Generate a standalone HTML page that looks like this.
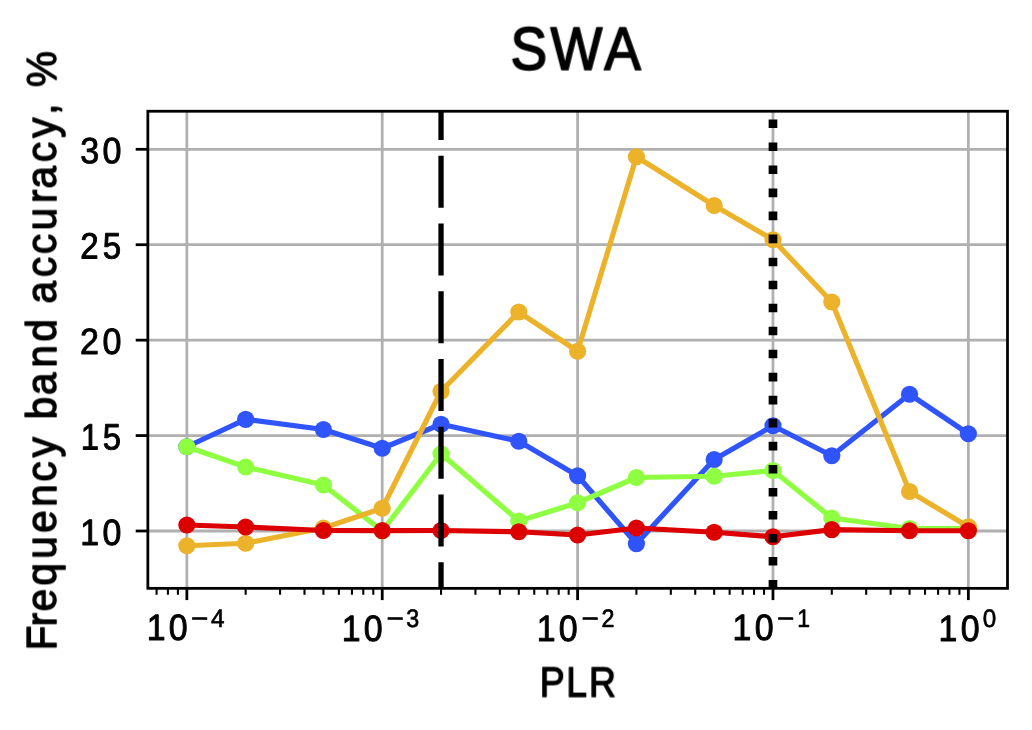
<!DOCTYPE html>
<html><head><meta charset="utf-8"><title>SWA</title>
<style>html,body{margin:0;padding:0;background:#fff;}body{width:1032px;height:730px;overflow:hidden;}svg{display:block;}text{font-family:"Liberation Sans",sans-serif;fill:#000;}</style>
</head><body>
<svg width="1032" height="730" viewBox="0 0 1032 730">
<rect x="0" y="0" width="1032" height="730" fill="#ffffff"/>
<g stroke="#b0b0b0" stroke-width="2.78" fill="none">
<line x1="186.85" y1="111.25" x2="186.85" y2="588.35"/>
<line x1="382.23" y1="111.25" x2="382.23" y2="588.35"/>
<line x1="577.60" y1="111.25" x2="577.60" y2="588.35"/>
<line x1="772.98" y1="111.25" x2="772.98" y2="588.35"/>
<line x1="968.35" y1="111.25" x2="968.35" y2="588.35"/>
<line x1="147.85" y1="531.00" x2="1007.50" y2="531.00"/>
<line x1="147.85" y1="435.57" x2="1007.50" y2="435.57"/>
<line x1="147.85" y1="340.15" x2="1007.50" y2="340.15"/>
<line x1="147.85" y1="244.72" x2="1007.50" y2="244.72"/>
<line x1="147.85" y1="149.30" x2="1007.50" y2="149.30"/>
</g>
<g fill="#3054fb" stroke="none">
<polyline points="186.85,446.75 245.66,419.40 323.41,429.50 382.23,448.25 441.04,424.25 518.79,441.25 577.60,475.75 636.41,543.75 714.16,459.50 772.98,425.75 831.79,455.75 909.54,394.25 968.35,433.75" fill="none" stroke="#3054fb" stroke-width="5.20" stroke-linejoin="round" stroke-linecap="butt"/>
<circle cx="186.85" cy="446.75" r="8.60"/>
<circle cx="245.66" cy="419.40" r="8.60"/>
<circle cx="323.41" cy="429.50" r="8.60"/>
<circle cx="382.23" cy="448.25" r="8.60"/>
<circle cx="441.04" cy="424.25" r="8.60"/>
<circle cx="518.79" cy="441.25" r="8.60"/>
<circle cx="577.60" cy="475.75" r="8.60"/>
<circle cx="636.41" cy="543.75" r="8.60"/>
<circle cx="714.16" cy="459.50" r="8.60"/>
<circle cx="772.98" cy="425.75" r="8.60"/>
<circle cx="831.79" cy="455.75" r="8.60"/>
<circle cx="909.54" cy="394.25" r="8.60"/>
<circle cx="968.35" cy="433.75" r="8.60"/>
</g>
<g fill="#8eff41" stroke="none">
<polyline points="186.85,446.75 245.66,467.00 323.41,485.00 382.23,531.00 441.04,453.75 518.79,521.00 577.60,502.75 636.41,477.50 714.16,476.25 772.98,470.50 831.79,518.00 909.54,528.50 968.35,528.50" fill="none" stroke="#8eff41" stroke-width="5.20" stroke-linejoin="round" stroke-linecap="butt"/>
<circle cx="186.85" cy="446.75" r="8.60"/>
<circle cx="245.66" cy="467.00" r="8.60"/>
<circle cx="323.41" cy="485.00" r="8.60"/>
<circle cx="382.23" cy="531.00" r="8.60"/>
<circle cx="441.04" cy="453.75" r="8.60"/>
<circle cx="518.79" cy="521.00" r="8.60"/>
<circle cx="577.60" cy="502.75" r="8.60"/>
<circle cx="636.41" cy="477.50" r="8.60"/>
<circle cx="714.16" cy="476.25" r="8.60"/>
<circle cx="772.98" cy="470.50" r="8.60"/>
<circle cx="831.79" cy="518.00" r="8.60"/>
<circle cx="909.54" cy="528.50" r="8.60"/>
<circle cx="968.35" cy="528.50" r="8.60"/>
</g>
<g fill="#ecb22a" stroke="none">
<polyline points="186.85,545.75 245.66,543.25 323.41,528.00 382.23,508.25 441.04,391.25 518.79,312.00 577.60,351.25 636.41,156.75 714.16,205.50 772.98,239.75 831.79,302.00 909.54,491.50 968.35,526.75" fill="none" stroke="#ecb22a" stroke-width="5.20" stroke-linejoin="round" stroke-linecap="butt"/>
<circle cx="186.85" cy="545.75" r="8.60"/>
<circle cx="245.66" cy="543.25" r="8.60"/>
<circle cx="323.41" cy="528.00" r="8.60"/>
<circle cx="382.23" cy="508.25" r="8.60"/>
<circle cx="441.04" cy="391.25" r="8.60"/>
<circle cx="518.79" cy="312.00" r="8.60"/>
<circle cx="577.60" cy="351.25" r="8.60"/>
<circle cx="636.41" cy="156.75" r="8.60"/>
<circle cx="714.16" cy="205.50" r="8.60"/>
<circle cx="772.98" cy="239.75" r="8.60"/>
<circle cx="831.79" cy="302.00" r="8.60"/>
<circle cx="909.54" cy="491.50" r="8.60"/>
<circle cx="968.35" cy="526.75" r="8.60"/>
</g>
<g fill="#dc0000" stroke="none">
<polyline points="186.85,525.00 245.66,527.00 323.41,530.50 382.23,530.60 441.04,530.50 518.79,531.75 577.60,535.00 636.41,528.00 714.16,532.25 772.98,536.75 831.79,529.60 909.54,530.75 968.35,530.75" fill="none" stroke="#dc0000" stroke-width="5.20" stroke-linejoin="round" stroke-linecap="butt"/>
<circle cx="186.85" cy="525.00" r="8.60"/>
<circle cx="245.66" cy="527.00" r="8.60"/>
<circle cx="323.41" cy="530.50" r="8.60"/>
<circle cx="382.23" cy="530.60" r="8.60"/>
<circle cx="441.04" cy="530.50" r="8.60"/>
<circle cx="518.79" cy="531.75" r="8.60"/>
<circle cx="577.60" cy="535.00" r="8.60"/>
<circle cx="636.41" cy="528.00" r="8.60"/>
<circle cx="714.16" cy="532.25" r="8.60"/>
<circle cx="772.98" cy="536.75" r="8.60"/>
<circle cx="831.79" cy="529.60" r="8.60"/>
<circle cx="909.54" cy="530.75" r="8.60"/>
<circle cx="968.35" cy="530.75" r="8.60"/>
</g>
<line x1="441.04" y1="111.25" x2="441.04" y2="588.35" stroke="#000" stroke-width="5.3" stroke-dasharray="52.1 15.65" stroke-dashoffset="23.30"/>
<line x1="772.98" y1="588.35" x2="772.98" y2="111.25" stroke="#000" stroke-width="8.68" stroke-dasharray="8.6 14.43" stroke-dashoffset="0.30"/>
<g stroke="#000" stroke-width="2.78" fill="none">
<line x1="186.85" y1="588.35" x2="186.85" y2="600.10"/>
<line x1="382.23" y1="588.35" x2="382.23" y2="600.10"/>
<line x1="577.60" y1="588.35" x2="577.60" y2="600.10"/>
<line x1="772.98" y1="588.35" x2="772.98" y2="600.10"/>
<line x1="968.35" y1="588.35" x2="968.35" y2="600.10"/>
<line x1="135.70" y1="531.00" x2="147.85" y2="531.00"/>
<line x1="135.70" y1="435.57" x2="147.85" y2="435.57"/>
<line x1="135.70" y1="340.15" x2="147.85" y2="340.15"/>
<line x1="135.70" y1="244.72" x2="147.85" y2="244.72"/>
<line x1="135.70" y1="149.30" x2="147.85" y2="149.30"/>
</g>
<g stroke="#000" stroke-width="2.08" fill="none">
<line x1="156.59" y1="588.35" x2="156.59" y2="594.75"/>
<line x1="167.92" y1="588.35" x2="167.92" y2="594.75"/>
<line x1="177.91" y1="588.35" x2="177.91" y2="594.75"/>
<line x1="245.66" y1="588.35" x2="245.66" y2="594.75"/>
<line x1="280.07" y1="588.35" x2="280.07" y2="594.75"/>
<line x1="304.48" y1="588.35" x2="304.48" y2="594.75"/>
<line x1="323.41" y1="588.35" x2="323.41" y2="594.75"/>
<line x1="338.88" y1="588.35" x2="338.88" y2="594.75"/>
<line x1="351.96" y1="588.35" x2="351.96" y2="594.75"/>
<line x1="363.29" y1="588.35" x2="363.29" y2="594.75"/>
<line x1="373.29" y1="588.35" x2="373.29" y2="594.75"/>
<line x1="441.04" y1="588.35" x2="441.04" y2="594.75"/>
<line x1="475.44" y1="588.35" x2="475.44" y2="594.75"/>
<line x1="499.85" y1="588.35" x2="499.85" y2="594.75"/>
<line x1="518.79" y1="588.35" x2="518.79" y2="594.75"/>
<line x1="534.26" y1="588.35" x2="534.26" y2="594.75"/>
<line x1="547.34" y1="588.35" x2="547.34" y2="594.75"/>
<line x1="558.67" y1="588.35" x2="558.67" y2="594.75"/>
<line x1="568.66" y1="588.35" x2="568.66" y2="594.75"/>
<line x1="636.41" y1="588.35" x2="636.41" y2="594.75"/>
<line x1="670.82" y1="588.35" x2="670.82" y2="594.75"/>
<line x1="695.23" y1="588.35" x2="695.23" y2="594.75"/>
<line x1="714.16" y1="588.35" x2="714.16" y2="594.75"/>
<line x1="729.63" y1="588.35" x2="729.63" y2="594.75"/>
<line x1="742.71" y1="588.35" x2="742.71" y2="594.75"/>
<line x1="754.04" y1="588.35" x2="754.04" y2="594.75"/>
<line x1="764.04" y1="588.35" x2="764.04" y2="594.75"/>
<line x1="831.79" y1="588.35" x2="831.79" y2="594.75"/>
<line x1="866.19" y1="588.35" x2="866.19" y2="594.75"/>
<line x1="890.60" y1="588.35" x2="890.60" y2="594.75"/>
<line x1="909.54" y1="588.35" x2="909.54" y2="594.75"/>
<line x1="925.01" y1="588.35" x2="925.01" y2="594.75"/>
<line x1="938.09" y1="588.35" x2="938.09" y2="594.75"/>
<line x1="949.42" y1="588.35" x2="949.42" y2="594.75"/>
<line x1="959.41" y1="588.35" x2="959.41" y2="594.75"/>
</g>
<rect x="147.85" y="111.25" width="859.65" height="477.10" fill="none" stroke="#000" stroke-width="2.78" stroke-linejoin="miter"/>
<g opacity="0.999">
<text id="title" font-size="61.20" stroke="#000" stroke-width="1.70" stroke-linejoin="round" transform="translate(577.90,69.70) rotate(0.05) scale(0.8987,1)" x="-75.09 -30.61 29.21" y="0">SWA</text>
<text id="xlabel" font-size="42.32" stroke="#000" stroke-width="1.26" stroke-linejoin="round" transform="translate(579.00,696.60) rotate(0.05) scale(0.8871,1)" x="-44.26 -14.41 11.21" y="0">PLR</text>
<text id="y10" font-size="36.68" stroke="#000" stroke-width="0.96" stroke-linejoin="round" transform="translate(101.65,544.90) rotate(0.05) scale(0.9234,1)" x="-23.15 0.94" y="0">10</text>
<text id="y15" font-size="36.68" stroke="#000" stroke-width="0.96" stroke-linejoin="round" transform="translate(101.35,449.47) rotate(0.05) scale(0.8953,1)" x="-23.13 1.54" y="0">15</text>
<text id="y20" font-size="36.68" stroke="#000" stroke-width="0.96" stroke-linejoin="round" transform="translate(101.00,354.05) rotate(0.05) scale(0.9282,1)" x="-22.73 1.56" y="0">20</text>
<text id="y25" font-size="36.68" stroke="#000" stroke-width="0.96" stroke-linejoin="round" transform="translate(100.70,258.62) rotate(0.05) scale(0.9008,1)" x="-22.71 2.17" y="0">25</text>
<text id="y30" font-size="36.68" stroke="#000" stroke-width="0.96" stroke-linejoin="round" transform="translate(101.00,163.20) rotate(0.05) scale(0.9271,1)" x="-22.26 1.52" y="0">30</text>
<text id="xb-4" font-size="36.68" stroke="#000" stroke-width="0.96" stroke-linejoin="round" transform="translate(168.00,640.00) rotate(0.05) scale(0.9234,1)" x="-23.15 0.94" y="0">10</text>
<text id="xm-4" font-size="25.25" stroke="#000" stroke-width="0.70" stroke-linejoin="round" transform="translate(199.75,627.00) rotate(0.05) scale(1.1731,1)" x="-7.38" y="0">−</text>
<text id="xe-4" font-size="25.25" stroke="#000" stroke-width="0.70" stroke-linejoin="round" transform="translate(217.60,627.00) rotate(0.05) scale(0.9618,1)" x="-6.94" y="0">4</text>
<text id="xb-3" font-size="36.68" stroke="#000" stroke-width="0.96" stroke-linejoin="round" transform="translate(363.00,640.90) rotate(0.05) scale(0.9234,1)" x="-23.15 0.94" y="0">10</text>
<text id="xm-3" font-size="25.25" stroke="#000" stroke-width="0.70" stroke-linejoin="round" transform="translate(395.05,627.00) rotate(0.05) scale(1.1731,1)" x="-7.38" y="0">−</text>
<text id="xe-3" font-size="25.25" stroke="#000" stroke-width="0.70" stroke-linejoin="round" transform="translate(412.60,627.00) rotate(0.05) scale(0.9205,1)" x="-6.95" y="0">3</text>
<text id="xb-2" font-size="36.68" stroke="#000" stroke-width="0.96" stroke-linejoin="round" transform="translate(558.00,640.90) rotate(0.05) scale(0.9234,1)" x="-23.15 0.94" y="0">10</text>
<text id="xm-2" font-size="25.25" stroke="#000" stroke-width="0.70" stroke-linejoin="round" transform="translate(590.15,627.00) rotate(0.05) scale(1.1731,1)" x="-7.38" y="0">−</text>
<text id="xe-2" font-size="25.25" stroke="#000" stroke-width="0.70" stroke-linejoin="round" transform="translate(607.85,627.00) rotate(0.05) scale(0.9218,1)" x="-7.02" y="0">2</text>
<text id="xb-1" font-size="36.68" stroke="#000" stroke-width="0.96" stroke-linejoin="round" transform="translate(753.90,640.00) rotate(0.05) scale(0.9234,1)" x="-23.15 0.94" y="0">10</text>
<text id="xm-1" font-size="25.25" stroke="#000" stroke-width="0.70" stroke-linejoin="round" transform="translate(785.65,627.00) rotate(0.05) scale(1.1731,1)" x="-7.38" y="0">−</text>
<text id="xe-1" font-size="25.25" stroke="#000" stroke-width="0.70" stroke-linejoin="round" transform="translate(803.95,627.00) rotate(0.05) scale(0.9104,1)" x="-7.37" y="0">1</text>
<text id="xb0" font-size="36.68" stroke="#000" stroke-width="0.96" stroke-linejoin="round" transform="translate(959.95,640.90) rotate(0.05) scale(0.9234,1)" x="-23.15 0.94" y="0">10</text>
<text id="xe0" font-size="25.25" stroke="#000" stroke-width="0.70" stroke-linejoin="round" transform="translate(989.45,627.00) rotate(0.05) scale(0.9589,1)" x="-7.02" y="0">0</text>
<text id="ylabel" font-size="42.32" stroke="#000" stroke-width="1.26" stroke-linejoin="round" transform="translate(56.10,348.85) rotate(-90) scale(0.9575,1)" x="-315.02 -289.91 -274.09 -247.29 -219.47 -192.12 -164.93 -138.57 -113.25 -92.09 -73.60 -48.33 -19.54 7.66 28.82 47.37 74.93 98.86 123.82 152.29 167.36 194.93 220.24 244.30 265.46 273.24" y="0">Frequency band accuracy, %</text>
</g>
</svg>
</body></html>
